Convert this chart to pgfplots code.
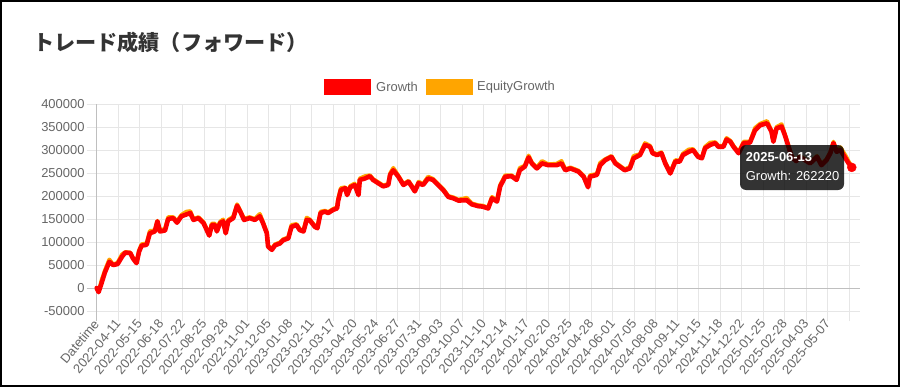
\documentclass[border=0pt]{standalone}
\usepackage{pgfplots}
\pgfplotsset{compat=1.18}
\usepackage{pgfplotstable}
\usepackage{fontspec}
\setmainfont{Liberation Sans}
\newfontfamily\cjk{Noto Sans CJK JP}
\definecolor{gridc}{HTML}{E6E6E6}
\definecolor{zeroc}{HTML}{BFBFBF}
\definecolor{txt}{HTML}{666666}
\definecolor{ttl}{HTML}{333333}
\definecolor{gr}{HTML}{FF0000}
\definecolor{eq}{HTML}{FFA500}

\pgfplotstableread{
x y
0 0
3 -9000
8 12000
13 34000
20 57000
26 50000
33 52000
40 68000
45 77000
53 76000
57 65000
63 54000
67 79000
71 92000
79 94000
84 119000
92 123000
96 145000
100 123000
108 125000
113 150000
121 152000
127 142000
134 156000
142 160000
148 163000
153 148000
161 152000
169 141000
178 114000
182 137000
187 137000
190 123000
195 141000
200 145000
204 119000
208 145000
216 152000
219 166000
222 179000
227 166000
233 148000
242 152000
250 148000
258 156000
263 141000
269 119000
271 90000
277 83000
282 93000
290 97000
295 104000
303 108000
308 133000
316 137000
321 126000
327 123000
332 148000
337 147000
345 133000
349 130000
354 163000
361 166000
366 163000
374 170000
380 173000
382 191000
386 213000
393 217000
396 202000
401 219000
408 224000
414 202000
416 235000
424 238000
432 243000
437 235000
445 228000
453 221000
461 224000
464 246000
469 256000
477 242000
485 224000
493 231000
498 221000
503 210000
509 228000
516 224000
524 238000
532 235000
540 224000
548 213000
556 198000
564 195000
572 190000
585 191000
593 182000
603 178000
610 177000
619 173000
625 195000
633 188000
638 221000
646 242000
656 243000
664 235000
669 256000
677 264000
683 284000
688 271000
696 260000
704 271000
714 267000
727 267000
735 271000
741 256000
749 260000
762 253000
770 242000
777 219000
780 242000
791 246000
796 267000
804 278000
814 285000
820 271000
827 264000
835 256000
843 260000
849 282000
859 289000
867 311000
875 307000
879 293000
886 289000
893 293000
899 271000
907 249000
915 275000
922 275000
927 289000
936 296000
943 300000
951 285000
957 282000
962 304000
970 311000
978 315000
983 307000
991 307000
996 323000
1002 318000
1007 307000
1015 293000
1023 315000
1033 316000
1041 343000
1049 354000
1060 358000
1067 340000
1070 318000
1075 347000
1083 351000
1088 333000
1094 307000
1099 285000
1106 276000
1112 285000
1120 278000
1128 271000
1139 285000
1146 267000
1154 278000
1160 293000
1165 315000
1170 296000
1176 300000
1184 282000
1189 271000
1194 262220
}\growth

\pgfplotstableread{
x y
0 0
3 -8000
8 18000
13 38000
20 62000
26 51000
33 55000
40 73000
45 78000
53 77000
57 66000
63 56000
67 82000
71 95000
79 97000
84 124000
92 125000
96 146000
100 126000
108 128000
113 154000
121 154000
127 145000
134 159000
142 166000
148 167000
153 150000
161 154000
169 143000
178 116000
182 140000
187 140000
190 126000
195 144000
200 149000
204 121000
208 148000
216 155000
219 168000
222 182000
227 168000
233 151000
242 154000
250 150000
258 161000
263 143000
269 121000
271 92000
277 85000
282 95000
290 99000
295 106000
303 110000
308 137000
316 139000
321 128000
327 125000
332 153000
337 149000
345 135000
349 132000
354 166000
361 168000
366 165000
374 172000
380 175000
382 195000
386 217000
393 219000
396 205000
401 222000
408 227000
414 205000
416 238000
424 243000
432 245000
437 237000
445 230000
453 223000
461 226000
464 249000
469 261000
477 244000
485 226000
493 233000
498 223000
503 212000
509 231000
516 226000
524 242000
532 237000
540 226000
548 215000
556 200000
564 197000
572 192000
585 196000
593 184000
603 180000
610 179000
619 175000
625 198000
633 190000
638 224000
646 245000
656 245000
664 237000
669 261000
677 266000
683 288000
688 273000
696 262000
704 276000
714 269000
727 270000
735 276000
741 258000
749 262000
762 255000
770 244000
777 221000
780 245000
791 248000
796 272000
804 280000
814 287000
820 273000
827 266000
835 258000
843 263000
849 287000
859 291000
867 315000
875 309000
879 295000
886 291000
893 295000
899 273000
907 251000
915 278000
922 277000
927 292000
936 301000
943 302000
951 287000
957 284000
962 307000
970 316000
978 317000
983 309000
991 309000
996 326000
1002 320000
1007 309000
1015 295000
1023 318000
1033 318000
1041 348000
1049 357000
1060 363000
1067 342000
1070 320000
1075 350000
1083 356000
1088 335000
1094 309000
1099 287000
1106 278000
1112 287000
1120 280000
1128 273000
1139 287000
1146 269000
1154 280000
1160 295000
1165 318000
1170 298000
1176 306000
1184 288000
1189 275000
1194 264000
}\equity

\begin{document}
\begin{tikzpicture}[x=1bp,y=1bp]
\useasboundingbox (0,0) rectangle (900,387);
\fill[white] (0,0) rectangle (900,387);
\draw[black, line width=2bp] (1,1) rectangle (899,386);
\node[anchor=west, inner sep=0, text=ttl, font=\cjk\bfseries\fontsize{21.2}{25}\selectfont] at (33,345) {トレード成績（フォワード）};
\begin{axis}[
  at={(96.7bp,76bp)}, anchor=south west,
  scale only axis, width=763.3bp, height=207bp,
  xmin=0, xmax=1207, ymin=-50000, ymax=400000,
  scaled y ticks=false, scaled x ticks=false,
  clip=false,
  axis line style={draw=none},
  xtick={0,34,...,1190},
  xticklabels={Datetime,2022-04-11,2022-05-15,2022-06-18,2022-07-22,2022-08-25,2022-09-28,2022-11-01,2022-12-05,2023-01-08,2023-02-11,2023-03-17,2023-04-20,2023-05-24,2023-06-27,2023-07-31,2023-09-03,2023-10-07,2023-11-10,2023-12-14,2024-01-17,2024-02-20,2024-03-25,2024-04-28,2024-06-01,2024-07-05,2024-08-08,2024-09-11,2024-10-15,2024-11-18,2024-12-22,2025-01-25,2025-02-28,2025-04-03,2025-05-07,{}},
  ytick={-50000,0,50000,100000,150000,200000,250000,300000,350000,400000},
  yticklabels={-50000,0,50000,100000,150000,200000,250000,300000,350000,400000},
  xtick pos=lower, ytick pos=left,
  tick align=outside, major tick length=10bp,
  tick style={draw=gridc, line width=1bp},
  grid=major, major grid style={draw=gridc, line width=1bp},
  extra y ticks={0}, extra y tick labels={},
  extra y tick style={major grid style={draw=zeroc, line width=1bp}, tick style={draw=zeroc}},
  extra x ticks={0}, extra x tick labels={},
  extra x tick style={major grid style={draw=zeroc, line width=1bp}, tick style={draw=zeroc}},
  ticklabel style={text=txt, font=\fontsize{13}{15}\selectfont},
  xticklabel style={rotate=50, anchor=east, inner sep=0.5bp},
  yticklabel style={anchor=east, inner sep=2bp},
]
\addplot[eq, line width=4bp, line join=round, line cap=round] table[x=x,y=y] {\equity};
\addplot[gr, line width=4.6bp, line join=round, line cap=round] table[x=x,y=y] {\growth};
\addplot[only marks, mark=*, mark size=4.5bp, mark options={fill=gr, draw=gr}] coordinates {(1194,262220)};
\end{axis}
\fill[gr] (324,292) rectangle (371,308);
\node[anchor=west, inner sep=0, text=txt, font=\fontsize{13}{15}\selectfont] at (376,300) {Growth};
\fill[eq] (426,292) rectangle (473,308);
\node[anchor=west, inner sep=0, text=txt, font=\fontsize{13}{15}\selectfont] at (477,300) {EquityGrowth};
\fill[black, opacity=0.8, rounded corners=6bp] (740,197) rectangle (844,242);
\node[anchor=west, inner sep=0, text=white, font=\bfseries\fontsize{13}{15}\selectfont] at (745.7,229.5) {2025-06-13};
\node[anchor=west, inner sep=0, text=white, font=\fontsize{13}{15}\selectfont] at (745.7,210.7) {Growth: 262220};
\end{tikzpicture}
\end{document}
